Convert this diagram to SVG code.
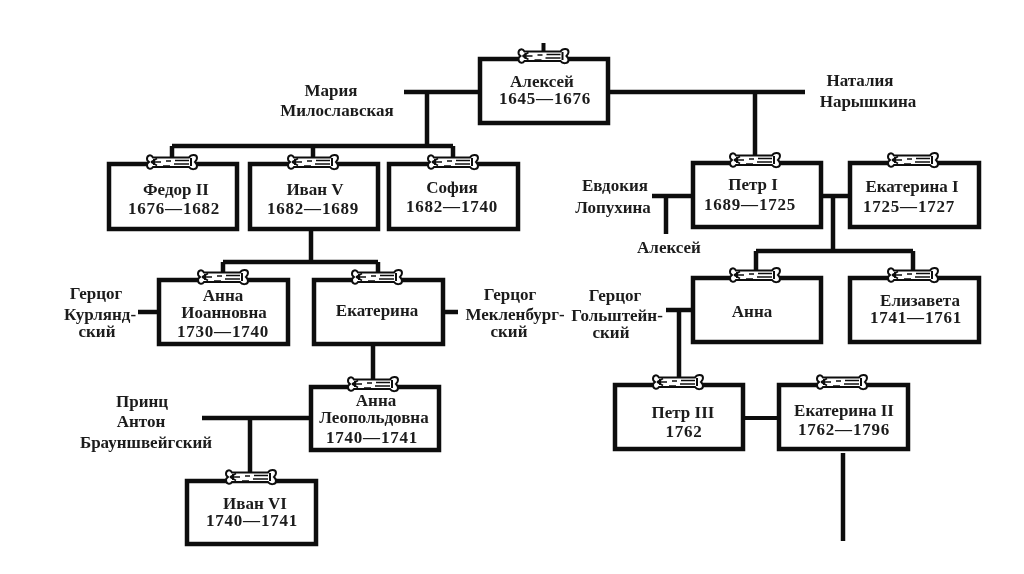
<svg xmlns="http://www.w3.org/2000/svg" width="1024" height="574" viewBox="0 0 1024 574">
<style>
.box{fill:#fff;stroke:#111;stroke-width:4.5}
.con{fill:none;stroke:#111;stroke-width:4.5}
.thin{fill:none;stroke:#111;stroke-width:4}
text{font-family:"Liberation Serif","DejaVu Serif",serif;font-size:17px;font-weight:bold;fill:#1a1a1a;text-anchor:middle}
text.y{font-size:17px;letter-spacing:0.8px}
</style>
<defs>
<filter id="soft" x="0" y="0" width="100%" height="100%"><feGaussianBlur stdDeviation="0.4"/></filter>
<g id="bone">
<path d="M-19,-4.5 H17 C19,-8 25,-8 25,-4 C25,-2 24,-1 23,0 C24,1 25,2 25,4 C25,8 19,8 17,5 H-19 C-21,8 -25,7 -25,3 C-25,1 -24,1 -23,0 C-24,-1 -25,-1 -25,-3 C-25,-7 -21,-8 -19,-4.5 Z" fill="#fff" stroke="#111" stroke-width="2"/>
<path d="M-21,0 L-15,-3.5 M-21,0 L-15,3.5 M-21,0 H-11 M-9,4 H-2 M-6,-1 H-1 M3,-1.5 H17 M2,2 H17" fill="none" stroke="#111" stroke-width="1.6"/>
<path d="M-18,-3 V3 M19,-4 V4" stroke="#111" stroke-width="2"/>
</g>
</defs>
<g filter="url(#soft)">
<rect width="1024" height="574" fill="#fff"/>
<g id="connectors">
<path class="thin" d="M543.5,43V52"/>
<path class="con" d="M404,92H480M427,92V146M172,146H453M172,146V164M313,146V164M453,146V164"/>
<path class="con" d="M610,92H805M755,92V162"/>
<path class="con" d="M311,231V262M223,262H378M223,262V278M378,262V278"/>
<path class="con" d="M138,312H159M443,312H458M373,346V385"/>
<path class="con" d="M202,418H311M250,418V480"/>
<path class="con" d="M652,196H693M666,196V234M821,196H850M833,196V251M756,251H913M756,251V277M913,251V277"/>
<path class="con" d="M666,310H693M679,310V385"/>
<path class="thin" d="M743,418H779"/>
<path class="con" d="M843,453V541"/>
</g>
<g id="n-alexey"><rect class="box" x="480" y="59" width="128" height="64"/><use href="#bone" x="543.5" y="56"/><text x="542" y="87">Алексей</text><text class="y" x="545" y="104">1645—1676</text></g>
<g id="n-maria"><text x="331" y="96">Мария</text><text x="337" y="116">Милославская</text></g>
<g id="n-natalia"><text x="860" y="86">Наталия</text><text x="868" y="107">Нарышкина</text></g>
<g id="n-fedor"><rect class="box" x="109" y="164" width="128" height="65"/><use href="#bone" x="172" y="162"/><text x="176" y="195">Федор II</text><text class="y" x="174" y="214">1676—1682</text></g>
<g id="n-ivan5"><rect class="box" x="250" y="164" width="128" height="65"/><use href="#bone" x="313" y="162"/><text x="315" y="195">Иван V</text><text class="y" x="313" y="214">1682—1689</text></g>
<g id="n-sofia"><rect class="box" x="389" y="164" width="129" height="65"/><use href="#bone" x="453" y="162"/><text x="452" y="193">София</text><text class="y" x="452" y="212">1682—1740</text></g>
<g id="n-petr1"><rect class="box" x="693" y="163" width="128" height="64"/><use href="#bone" x="755" y="160"/><text x="753" y="190">Петр I</text><text class="y" x="750" y="210">1689—1725</text></g>
<g id="n-ekat1"><rect class="box" x="850" y="163" width="129" height="64"/><use href="#bone" x="913" y="160"/><text x="912" y="192">Екатерина I</text><text class="y" x="909" y="212">1725—1727</text></g>
<g id="n-evdokia"><text x="615" y="191">Евдокия</text><text x="613" y="213">Лопухина</text></g>
<g id="n-alexey2"><text x="669" y="253">Алексей</text></g>
<g id="n-anna"><rect class="box" x="693" y="278" width="128" height="64"/><use href="#bone" x="755" y="275"/><text x="752" y="317">Анна</text></g>
<g id="n-elizaveta"><rect class="box" x="850" y="278" width="129" height="64"/><use href="#bone" x="913" y="275"/><text x="920" y="306">Елизавета</text><text class="y" x="916" y="323">1741—1761</text></g>
<g id="n-holstein"><text x="615" y="301">Герцог</text><text x="617" y="321">Гольштейн-</text><text x="611" y="338">ский</text></g>
<g id="n-anna-ioann"><rect class="box" x="159" y="280" width="129" height="64"/><use href="#bone" x="223" y="277"/><text x="223" y="301">Анна</text><text x="224" y="318">Иоанновна</text><text class="y" x="223" y="337">1730—1740</text></g>
<g id="n-ekaterina"><rect class="box" x="314" y="280" width="129" height="64"/><use href="#bone" x="377" y="277"/><text x="377" y="316">Екатерина</text></g>
<g id="n-kurland"><text x="96" y="299">Герцог</text><text x="100" y="320">Курлянд-</text><text x="97" y="337">ский</text></g>
<g id="n-meklen"><text x="510" y="300">Герцог</text><text x="515" y="320">Мекленбург-</text><text x="509" y="337">ский</text></g>
<g id="n-anna-leop"><rect class="box" x="311" y="387" width="128" height="63"/><use href="#bone" x="373" y="384"/><text x="376" y="406">Анна</text><text x="374" y="423">Леопольдовна</text><text class="y" x="372" y="443">1740—1741</text></g>
<g id="n-anton"><text x="142" y="407">Принц</text><text x="141" y="427">Антон</text><text x="146" y="448">Брауншвейгский</text></g>
<g id="n-ivan6"><rect class="box" x="187" y="481" width="129" height="63"/><use href="#bone" x="251" y="477"/><text x="255" y="509">Иван VI</text><text class="y" x="252" y="526">1740—1741</text></g>
<g id="n-petr3"><rect class="box" x="615" y="385" width="128" height="64"/><use href="#bone" x="678" y="382"/><text x="683" y="418">Петр III</text><text class="y" x="684" y="437">1762</text></g>
<g id="n-ekat2"><rect class="box" x="779" y="385" width="129" height="64"/><use href="#bone" x="842" y="382"/><text x="844" y="416">Екатерина II</text><text class="y" x="844" y="435">1762—1796</text></g>
</g>
</svg>
